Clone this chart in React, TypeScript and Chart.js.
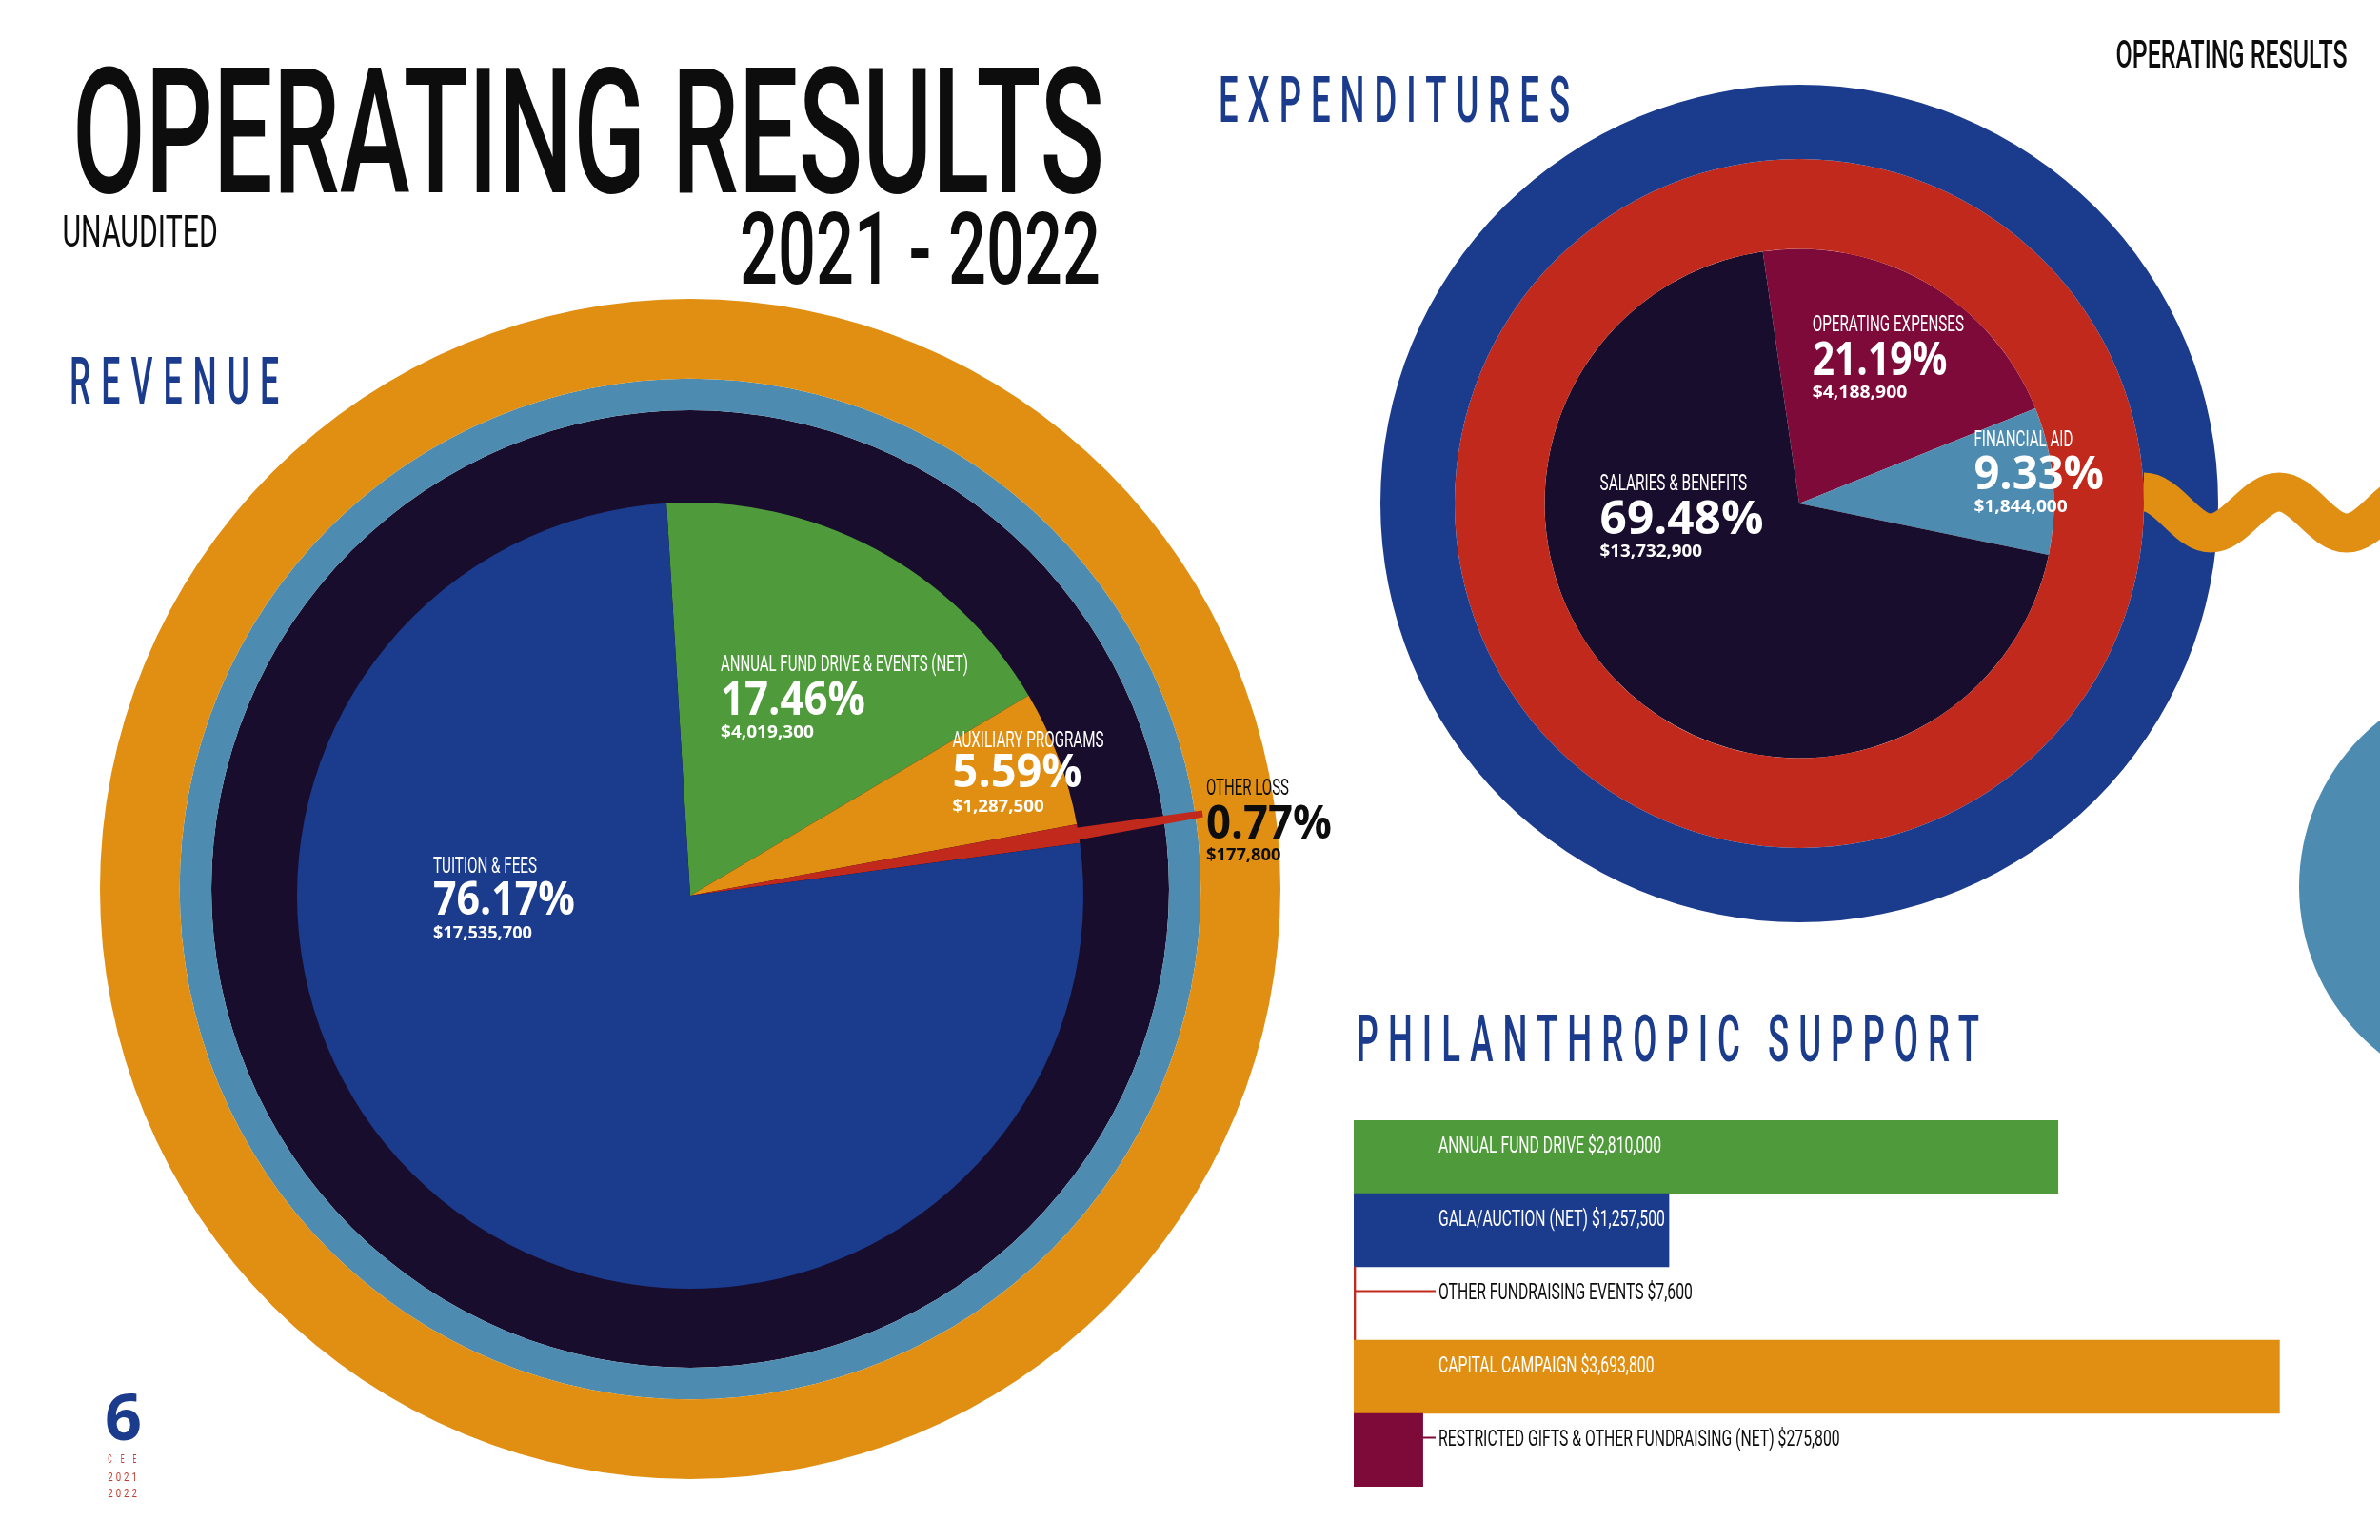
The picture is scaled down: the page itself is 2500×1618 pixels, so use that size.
import React, { useEffect, useRef } from 'react';
import { Chart, registerables } from 'chart.js';
Chart.register(...registerables);

// ---------------- data ----------------
const revenueLabels = ['ANNUAL FUND DRIVE & EVENTS (NET)', 'AUXILIARY PROGRAMS', 'OTHER LOSS', 'TUITION & FEES'];
const revenueValues = [4019300, 1287500, 177800, 17535700];

const expenditureLabels = ['OPERATING EXPENSES', 'FINANCIAL AID', 'SALARIES & BENEFITS'];
const expenditureValues = [4188900, 1844000, 13732900];

const supportLabels = [
  'ANNUAL FUND DRIVE',
  'GALA/AUCTION (NET)',
  'OTHER FUNDRAISING EVENTS',
  'CAPITAL CAMPAIGN',
  'RESTRICTED GIFTS & OTHER FUNDRAISING (NET)',
];
const supportValues = [2810000, 1257500, 7600, 3693800, 275800];
const supportAxisMax = 4000000;

const FULL_RING = [1];

// ---------------- styles ----------------
const C = {
  blue: '#1b3b8d',
  navy: '#180d2d',
  sky: '#4d8cb0',
  orange: '#e08f12',
  green: '#4f9b3b',
  red: '#c1291c',
  maroon: '#7e0a3a',
  ink: '#0d0d0d',
  smallRed: '#c63b2d',
};
const revenueColors = [C.green, C.orange, C.red, C.blue];
const expenditureColors = [C.maroon, C.sky, C.navy];
const supportColors = [C.green, C.blue, C.red, C.orange, C.maroon];

const money = (v: number) => '$' + v.toLocaleString('en-US');
const pct = (v: number, arr: number[]) => ((v / arr.reduce((a, b) => a + b, 0)) * 100).toFixed(2) + '%';

let _mctx: CanvasRenderingContext2D | null = null;
function measure(text: string, weight: number, size: number, family: string) {
  if (!_mctx) _mctx = document.createElement('canvas').getContext('2d');
  if (!_mctx) return text.length * size * 0.55;
  _mctx.font = `${weight} ${size}px ${family}`;
  return _mctx.measureText(text).width;
}

type TP = {
  x: number; top: number; capH: number; w: number; text: string;
  fill?: string; family?: string; weight?: number; ratio?: number; gap?: number;
};
function T({ x, top, capH, w, text, fill = C.ink, family = 'Roboto', weight = 400, ratio = 0.711, gap = 0 }: TP) {
  const fs = capH / ratio;
  const n = Array.from(text).length;
  let ls = 0;
  let tl = w;
  if (gap > 0) {
    const nat = measure(text, weight, fs, family);
    const s = (w - gap * (n - 1)) / nat;
    ls = gap / s;
    tl = w + gap;
  }
  return (
    <text
      x={x}
      y={top + capH}
      fontFamily={family}
      fontWeight={weight}
      fontSize={fs}
      fill={fill}
      textLength={tl}
      lengthAdjust="spacingAndGlyphs"
      style={{ letterSpacing: `${ls}px` }}
    >
      {text}
    </text>
  );
}

// label layout (positions only)
const revLayout = [
  { x: 757, catTop: 688.5, catW: 260, pctTop: 716.7, pctW: 152, amtTop: 761.5, amtW: 98, fill: '#ffffff' },
  { x: 1000.6, catTop: 768.5, catW: 159, pctTop: 793.3, pctW: 136, amtTop: 840, amtW: 96, fill: '#ffffff' },
  { x: 1267, catTop: 818.3, catW: 87, pctTop: 846.7, pctW: 132, amtTop: 890.5, amtW: 78.5, fill: C.ink },
  { x: 455, catTop: 900, catW: 109, pctTop: 926.7, pctW: 149, amtTop: 973, amtW: 104, fill: '#ffffff' },
];
const expLayout = [
  { x: 1903.7, catTop: 331.7, catW: 159.3, pctTop: 360, pctW: 141.7, amtTop: 405, amtW: 99.6 },
  { x: 2073.4, catTop: 452.7, catW: 104, pctTop: 480, pctW: 136.6, amtTop: 525, amtW: 98.3 },
  { x: 1680.6, catTop: 498.3, catW: 154.4, pctTop: 526.7, pctW: 171.9, amtTop: 571.7, amtW: 107.4 },
];

const BAR_LEFT = 1422;
const BAR_TOP = 1177;
const BAR_W = 1053;
const BAR_H = 385;
const BAR_LABEL_OFFSET = 89;

// squiggle path (decoration)
function squigglePath() {
  const pts = [
    [2252, 517], [2322, 560], [2394, 517], [2465, 560], [2536, 517],
  ];
  let d = `M ${pts[0][0]} ${pts[0][1]}`;
  for (let i = 1; i < pts.length; i++) {
    const [x0, y0] = pts[i - 1];
    const [x1, y1] = pts[i];
    const k = 0.3634 * (x1 - x0);
    d += ` C ${x0 + k} ${y0} ${x1 - k} ${y1} ${x1} ${y1}`;
  }
  return d;
}

const otherLossRay = {
  id: 'otherLossRay',
  afterDatasetsDraw(chart: any) {
    const arc = chart.getDatasetMeta(0).data[2];
    if (!arc) return;
    const p = arc.getProps(['x', 'y', 'startAngle', 'endAngle', 'outerRadius'], true);
    const mid = (p.startAngle + p.endAngle) / 2;
    const r0 = p.outerRadius - 3;
    const r1 = p.outerRadius + 132;
    const w0 = 6.5;
    const w1 = 3.5;
    const ux = Math.cos(mid), uy = Math.sin(mid);
    const px = -uy, py = ux;
    const ctx = chart.ctx;
    ctx.save();
    ctx.fillStyle = C.red;
    ctx.beginPath();
    ctx.moveTo(p.x + ux * r0 + px * w0, p.y + uy * r0 + py * w0);
    ctx.lineTo(p.x + ux * r1 + px * w1, p.y + uy * r1 + py * w1);
    ctx.lineTo(p.x + ux * r1 - px * w1, p.y + uy * r1 - py * w1);
    ctx.lineTo(p.x + ux * r0 - px * w0, p.y + uy * r0 - py * w0);
    ctx.closePath();
    ctx.fill();
    ctx.restore();
  },
};

const barConnectors = {
  id: 'barConnectors',
  afterDatasetsDraw(chart: any) {
    const meta = chart.getDatasetMeta(0);
    const labelX = chart.chartArea.left + BAR_LABEL_OFFSET - 3;
    const ctx = chart.ctx;
    ctx.save();
    ctx.lineWidth = 2;
    meta.data.forEach((bar: any, i: number) => {
      const p = bar.getProps(['x', 'y', 'height'], true);
      if (p.x < labelX) {
        const y = p.y - p.height / 2 + 25.5;
        ctx.strokeStyle = supportColors[i];
        ctx.beginPath();
        ctx.moveTo(p.x, y);
        ctx.lineTo(labelX, y);
        ctx.stroke();
      }
    });
    ctx.restore();
  },
};

export default function App() {
  const ringsRef = useRef<HTMLCanvasElement>(null);
  const revRef = useRef<HTMLCanvasElement>(null);
  const expRef = useRef<HTMLCanvasElement>(null);
  const barRef = useRef<HTMLCanvasElement>(null);

  useEffect(() => {
    const charts: Chart[] = [];
    const common: any = {
      responsive: false,
      maintainAspectRatio: false,
      animation: false,
      events: [],
      plugins: { legend: { display: false }, tooltip: { enabled: false } },
    };
    const ring = (color: string, weight: number, extra: any = {}) => ({
      data: FULL_RING,
      backgroundColor: [color],
      borderWidth: 0,
      offset: 0,
      hoverOffset: 0,
      weight,
      ...extra,
    });

    if (ringsRef.current) {
      charts.push(
        new Chart(ringsRef.current, {
          type: 'doughnut',
          data: { datasets: [ring(C.orange, 83.7), ring(C.sky, 33.3), ring(C.navy, 503)] as any },
          options: { ...common, cutout: 0, layout: { padding: 0 } },
        })
      );
    }
    if (revRef.current) {
      charts.push(
        new Chart(revRef.current, {
          type: 'doughnut',
          data: {
            labels: revenueLabels,
            datasets: [
              {
                data: revenueValues,
                backgroundColor: revenueColors,
                borderWidth: 0,
                offset: 0,
                hoverOffset: 0,
                rotation: -3.46,
              } as any,
            ],
          },
          options: { ...common, cutout: 0, layout: { padding: 207 } },
          plugins: [otherLossRay],
        })
      );
    }
    if (expRef.current) {
      charts.push(
        new Chart(expRef.current, {
          type: 'doughnut',
          data: {
            labels: expenditureLabels,
            datasets: [
              ring(C.blue, 78),
              ring(C.red, 94.5),
              {
                data: expenditureValues,
                backgroundColor: expenditureColors,
                borderWidth: 0,
                offset: 0,
                hoverOffset: 0,
                weight: 267.5,
                rotation: -8.25,
              },
            ] as any,
          },
          options: { ...common, cutout: 0, layout: { padding: 0 } },
        })
      );
    }
    if (barRef.current) {
      charts.push(
        new Chart(barRef.current, {
          type: 'bar',
          data: {
            labels: supportLabels,
            datasets: [
              {
                data: supportValues,
                backgroundColor: supportColors,
                borderWidth: 0,
                barPercentage: 1,
                categoryPercentage: 1,
              },
            ],
          },
          options: {
            ...common,
            indexAxis: 'y',
            layout: { padding: 0 },
            scales: {
              x: { display: false, min: 0, max: supportAxisMax },
              y: { display: false },
            },
          },
          plugins: [barConnectors],
        })
      );
    }
    return () => charts.forEach((c) => c.destroy());
  }, []);

  // bar label sizing (consistent condensed font)
  const barFs = 17 / 0.711;
  const barTexts = supportLabels.map((l, i) => `${l} ${money(supportValues[i])}`);
  const barScale = 234 / measure(barTexts[0], 400, barFs, 'Roboto');
  const catCap = 16.5;
  const pctCap = 34;
  const amtCap = 13.2;

  return (
    <div
      style={{
        position: 'absolute',
        left: 0,
        top: 0,
        width: 2500,
        height: 1618,
        background: '#ffffff',
        overflow: 'hidden',
      }}
    >
      <canvas ref={ringsRef} width={1240} height={1240} style={{ position: 'absolute', left: 105, top: 314 }} />
      <canvas ref={revRef} width={1240} height={1240} style={{ position: 'absolute', left: 105, top: 321 }} />
      <canvas ref={expRef} width={880} height={880} style={{ position: 'absolute', left: 1450, top: 89 }} />
      <canvas ref={barRef} width={BAR_W} height={BAR_H} style={{ position: 'absolute', left: BAR_LEFT, top: BAR_TOP }} />

      <svg width={2500} height={1618} style={{ position: 'absolute', left: 0, top: 0 }}>
        <circle cx={2637.6} cy={931.7} r={222.6} fill={C.sky} />
        <path d={squigglePath()} fill="none" stroke={C.orange} strokeWidth={41} strokeLinecap="butt" />

        <T x={76} top={71.7} capH={130} w={1084} text="OPERATING RESULTS" weight={500} />
        <T x={65.4} top={226.7} capH={32.6} w={163.4} text="UNAUDITED" weight={400} />
        <T x={777} top={223.3} capH={75} w={379} text="2021 - 2022" weight={500} />
        <T x={2222.6} top={41.7} capH={29.3} w={243} text="OPERATING RESULTS" weight={500} />
        <T x={1280} top={80} capH={48} w={369} text="EXPENDITURES" weight={500} fill={C.blue} gap={10} />
        <T x={73} top={375} capH={49} w={220} text="REVENUE" weight={500} fill={C.blue} gap={11} />
        <T x={1424.6} top={1065.8} capH={49} w={654.4} text="PHILANTHROPIC SUPPORT" weight={500} fill={C.blue} gap={10} />

        {revenueLabels.map((l, i) => {
          const L = revLayout[i];
          return (
            <g key={'r' + i}>
              <T x={L.x} top={L.catTop} capH={catCap} w={L.catW} text={l} fill={L.fill} />
              <T x={L.x} top={L.pctTop} capH={pctCap} w={L.pctW} text={pct(revenueValues[i], revenueValues)} fill={L.fill} family="'Open Sans'" weight={700} ratio={0.714} />
              <T x={L.x} top={L.amtTop} capH={amtCap} w={L.amtW} text={money(revenueValues[i])} fill={L.fill} family="'Open Sans'" weight={700} ratio={0.714} />
            </g>
          );
        })}
        {expenditureLabels.map((l, i) => {
          const L = expLayout[i];
          return (
            <g key={'e' + i}>
              <T x={L.x} top={L.catTop} capH={catCap} w={L.catW} text={l} fill="#ffffff" />
              <T x={L.x} top={L.pctTop} capH={pctCap} w={L.pctW} text={pct(expenditureValues[i], expenditureValues)} fill="#ffffff" family="'Open Sans'" weight={700} ratio={0.714} />
              <T x={L.x} top={L.amtTop} capH={amtCap} w={L.amtW} text={money(expenditureValues[i])} fill="#ffffff" family="'Open Sans'" weight={700} ratio={0.714} />
            </g>
          );
        })}

        {barTexts.map((t, i) => {
          const inside = (supportValues[i] / supportAxisMax) * BAR_W > BAR_LABEL_OFFSET + 10;
          return (
            <T
              key={'b' + i}
              x={BAR_LEFT + BAR_LABEL_OFFSET}
              top={BAR_TOP + (BAR_H / supportLabels.length) * i + 17}
              capH={17}
              w={measure(t, 400, barFs, 'Roboto') * barScale}
              text={t}
              fill={inside ? '#ffffff' : C.ink}
            />
          );
        })}

        <T x={110} top={1464} capH={49} w={39} text="6" family="'Open Sans'" weight={700} ratio={0.714} fill={C.blue} />
        <T x={113.3} top={1528.3} capH={9} w={30} text="CEE" weight={400} fill={C.smallRed} gap={9} />
        <T x={113.3} top={1547.3} capH={9} w={30.5} text="2021" weight={400} fill={C.smallRed} gap={3} />
        <T x={113.3} top={1563.7} capH={9} w={30.5} text="2022" weight={400} fill={C.smallRed} gap={3} />
      </svg>
    </div>
  );
}
